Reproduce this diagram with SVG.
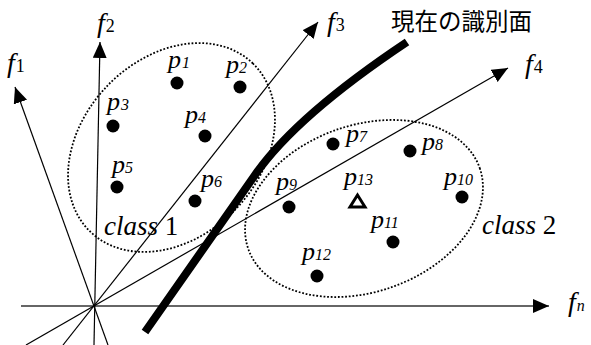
<svg xmlns="http://www.w3.org/2000/svg" width="591" height="345" viewBox="0 0 591 345">
<style>
.ax{stroke:#000;stroke-width:1.2;fill:none}
.axn{stroke:#333;stroke-width:1.6;fill:none}
.cls{fill:none;stroke:#000;stroke-width:1.8;stroke-dasharray:1.8 1.8}
.dot{fill:#000}
.lab{font-family:"Liberation Serif","Times New Roman",serif;font-style:italic;font-size:26px;fill:#000}
.flab{font-family:"Liberation Serif","Times New Roman",serif;font-style:italic;font-size:28px;fill:#000}
.cl{font-family:"Liberation Serif","Times New Roman",serif;font-style:italic;font-size:27px;fill:#000}
.sub{font-size:16px}
.fsub{font-style:normal;font-size:18px}
.up{font-style:normal}
.title{font-family:"Noto Sans CJK JP","Noto Sans",sans-serif;font-size:23.5px;fill:#000}
</style>
<defs>
<marker id="arr" markerUnits="userSpaceOnUse" markerWidth="16" markerHeight="14" refX="16" refY="7" orient="auto">
<path d="M0,0 L16,7 L0,14 z" fill="#000"/>
</marker>
</defs>
<g id="connectors">
<line class="axn" x1="21" y1="306" x2="549" y2="306" marker-end="url(#arr)"/>
<line class="ax" x1="108" y1="345" x2="15" y2="87" marker-end="url(#arr)"/>
<line class="ax" x1="94" y1="345" x2="100" y2="42" marker-end="url(#arr)"/>
<line class="ax" x1="63" y1="345" x2="318" y2="22" marker-end="url(#arr)"/>
<line class="ax" x1="26" y1="345" x2="508" y2="68" marker-end="url(#arr)"/>
</g>
<g id="axis-labels">
<text class="flab" x="7" y="72">f<tspan class="fsub" dx="1">1</tspan></text>
<text class="flab" x="97" y="32">f<tspan class="fsub" dx="1">2</tspan></text>
<text class="flab" x="327" y="31">f<tspan class="fsub" dx="1">3</tspan></text>
<text class="flab" x="525" y="73">f<tspan class="fsub" dx="1">4</tspan></text>
<text class="flab" x="568" y="311">f<tspan class="sub" dx="1">n</tspan></text>
</g>
<g id="class1">
<ellipse class="cls" cx="171.5" cy="147.5" rx="117" ry="89" transform="rotate(-46 171.5 147.5)"/>
<text class="cl" x="104" y="235">class <tspan class="up">1</tspan></text>
</g>
<g id="class2">
<ellipse class="cls" cx="364" cy="208.5" rx="122.6" ry="83.4" transform="rotate(-19.3 364 208.5)"/>
<text class="cl" x="482" y="234">class <tspan class="up">2</tspan></text>
</g>
<g id="boundary">
<path d="M145,332 L255,175 Q296,116 407,42" fill="none" stroke="#000" stroke-width="8"/>
<text class="title" x="391" y="30">現在の識別面</text>
</g>
<g id="p1"><circle class="dot" cx="177" cy="83" r="6.5"/><text class="lab" x="168" y="68">p<tspan class="sub" dx="1">1</tspan></text></g>
<g id="p2"><circle class="dot" cx="240" cy="87" r="6.5"/><text class="lab" x="226" y="73">p<tspan class="sub" dx="0">2</tspan></text></g>
<g id="p3"><circle class="dot" cx="113" cy="126" r="6.5"/><text class="lab" x="107" y="110">p<tspan class="sub" dx="1">3</tspan></text></g>
<g id="p4"><circle class="dot" cx="205" cy="136" r="6.5"/><text class="lab" x="185" y="123">p<tspan class="sub" dx="0">4</tspan></text></g>
<g id="p5"><circle class="dot" cx="117" cy="187" r="6.5"/><text class="lab" x="112" y="173">p<tspan class="sub" dx="0">5</tspan></text></g>
<g id="p6"><circle class="dot" cx="195" cy="201" r="6.5"/><text class="lab" x="201" y="187">p<tspan class="sub" dx="0">6</tspan></text></g>
<g id="p7"><circle class="dot" cx="333" cy="144" r="6.5"/><text class="lab" x="346" y="142">p<tspan class="sub" dx="0">7</tspan></text></g>
<g id="p8"><circle class="dot" cx="410" cy="151" r="6.5"/><text class="lab" x="422" y="150">p<tspan class="sub" dx="0">8</tspan></text></g>
<g id="p9"><circle class="dot" cx="289" cy="207" r="6.5"/><text class="lab" x="276" y="190">p<tspan class="sub" dx="0">9</tspan></text></g>
<g id="p10"><circle class="dot" cx="462" cy="197" r="6.5"/><text class="lab" x="444" y="185">p<tspan class="sub" dx="0">10</tspan></text></g>
<g id="p11"><circle class="dot" cx="393" cy="242" r="6.5"/><text class="lab" x="371" y="228">p<tspan class="sub" dx="0">11</tspan></text></g>
<g id="p12"><circle class="dot" cx="317" cy="276" r="6.5"/><text class="lab" x="302" y="260">p<tspan class="sub" dx="0">12</tspan></text></g>
<g id="p13"><polygon points="357.5,195 350,207 365,207" fill="none" stroke="#000" stroke-width="3"/><text class="lab" x="344" y="185">p<tspan class="sub" dx="0">13</tspan></text></g>
</svg>
